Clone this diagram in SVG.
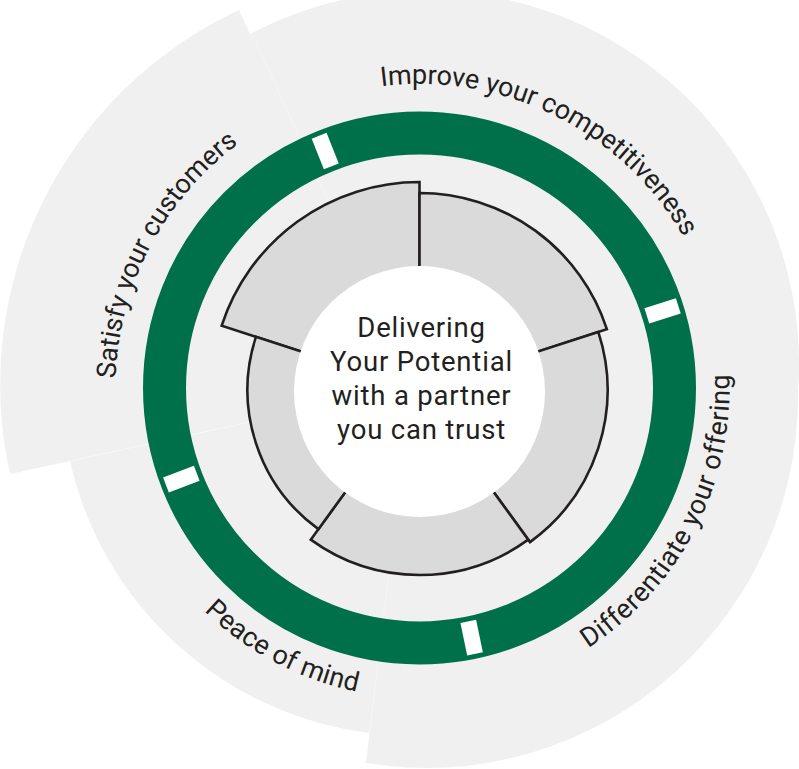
<svg xmlns="http://www.w3.org/2000/svg" width="799" height="769" viewBox="0 0 799 769">
<defs>
<style>
.seg{fill:#f0f0f0}
.seam{stroke:#ffffff;stroke-width:0.8;opacity:.4;fill:none}
.lbl{font-family:Roboto,"Liberation Sans",sans-serif;font-size:27px;font-weight:400;fill:#231f20}
.ring{fill:none;stroke:#00704a;stroke-width:43}
.gap{fill:#ffffff}
.petal{fill:#dadada;stroke:#231f20;stroke-width:2.6;stroke-linejoin:miter}
.ctr{font-family:Roboto,"Liberation Sans",sans-serif;font-size:27.5px;font-weight:400;fill:#231f20;text-anchor:middle;letter-spacing:0.8px}
</style>
<path id="p-improve" d="M381.4,86.4 A304,304 0 0 1 705.2,284"/>
<path id="p-satisfy" d="M115.65,378.45 A304,304 0 0 1 267.5,124.7"/>
<path id="p-diff" d="M588.3,648 A310,310 0 0 0 726.5,344.9"/>
<path id="p-peace" d="M204.1,611 A310,310 0 0 0 419.5,698"/>
</defs>

<g id="seg-improve">
<path class="seg" d="M412.5,387 L248,36 L252,33 A374,374 0 0 1 798.5,385 Z"/>
<text class="lbl"><textPath href="#p-improve" textLength="358" lengthAdjust="spacing">Improve your competitiveness</textPath></text>
</g>
<g id="seg-differentiate">
<path class="seg" d="M410.3,392 L797.4,375 A372,372 0 0 1 366,763.1 Z"/>
<text class="lbl"><textPath href="#p-diff" textLength="322" lengthAdjust="spacing">Differentiate your offering</textPath></text>
</g>
<g id="seg-satisfy">
<path class="seg" d="M412.5,387 L10,474 A413,413 0 0 1 239,10 Z"/>
<text class="lbl"><textPath href="#p-satisfy" textLength="274" lengthAdjust="spacing">Satisfy your customers</textPath></text>
</g>
<g id="seg-peace">
<path class="seg" d="M412.5,387 L70,461 A352,352 0 0 0 369.6,733 Z"/>
<text class="lbl"><textPath href="#p-peace" textLength="175" lengthAdjust="spacing">Peace of mind</textPath></text>
</g>

<g id="seams">
<line class="seam" x1="252" y1="33" x2="330" y2="205"/>
<line class="seam" x1="70" y1="461" x2="250" y2="422"/>
<line class="seam" x1="369.6" y1="733" x2="388.5" y2="576"/>
</g>

<g id="green-ring">
<circle class="ring" cx="419.5" cy="388" r="255"/>
<rect class="gap" x="238.5" y="-8" width="33" height="16" transform="translate(419.5 388) rotate(-111.7)"/>
<rect class="gap" x="238.5" y="-8" width="33" height="16" transform="translate(419.5 388) rotate(-17.6)"/>
<rect class="gap" x="238.5" y="-8" width="33" height="16" transform="translate(419.5 388) rotate(78.2)"/>
<rect class="gap" x="238.5" y="-8" width="33" height="16" transform="translate(419.5 388) rotate(159.05)"/>
</g>

<g id="inner-segments">
<path class="petal" d="M419.5,390 L221.68,325.72 A208,208 0 0 1 419.5,182 Z"/>
<path class="petal" d="M419.5,390 L419.5,193 A197,197 0 0 1 606.86,329.12 Z"/>
<path class="petal" d="M419.5,390 L598.3,331.9 A188,188 0 0 1 530,542.1 Z"/>
<path class="petal" d="M419.5,390 L528.24,539.67 A185,185 0 0 1 310.76,539.67 Z"/>
<path class="petal" d="M419.5,390 L318.4,529.15 A172,172 0 0 1 255.92,336.85 Z"/>
</g>

<g id="center">
<circle cx="419.5" cy="391.5" r="125.5" fill="#ffffff"/>
<text class="ctr" x="421.5" y="336.5">Delivering</text>
<text class="ctr" x="421.5" y="371">Your Potential</text>
<text class="ctr" x="421.5" y="405">with a partner</text>
<text class="ctr" x="421.5" y="439.3">you can trust</text>
</g>
</svg>
